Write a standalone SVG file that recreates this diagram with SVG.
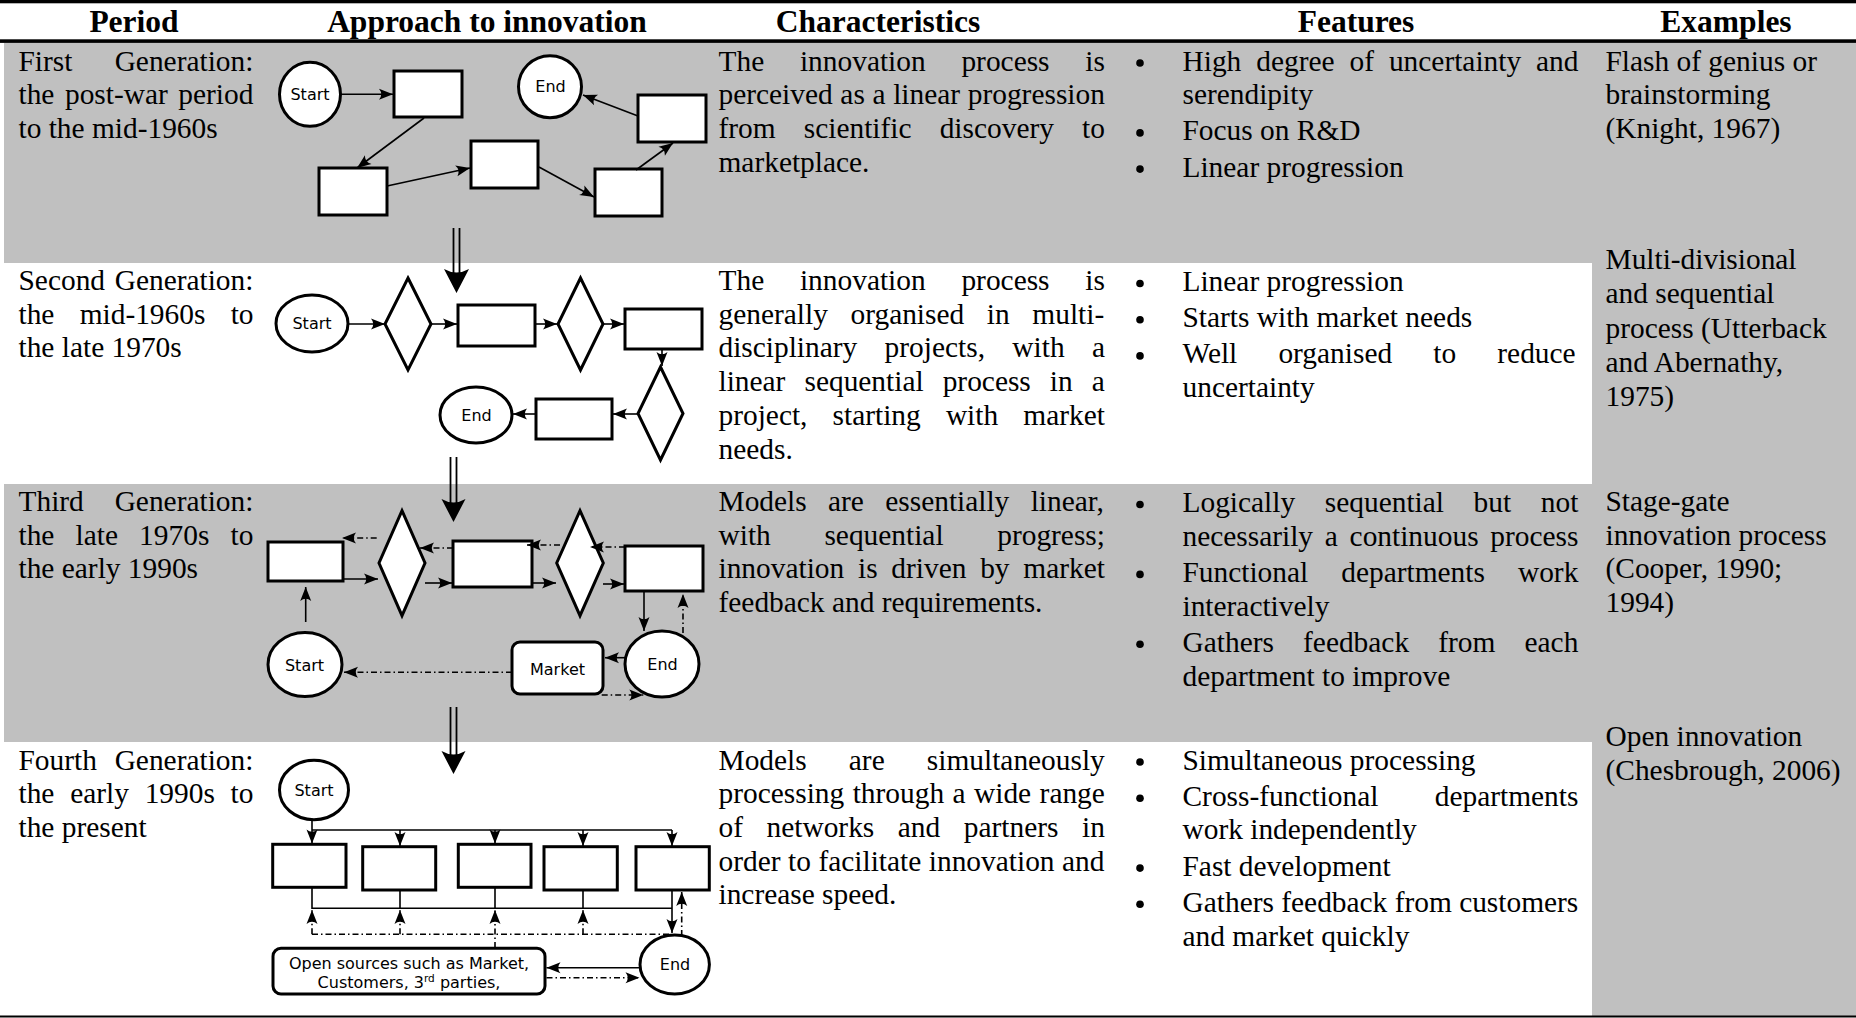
<svg xmlns="http://www.w3.org/2000/svg" width="1856" height="1018" viewBox="0 0 1856 1018">
  <style>
    .hdr { font-family: "Liberation Serif", "Times New Roman", serif; font-weight: bold; font-size: 31.5px; text-anchor: middle; fill: #000; }
    .tx { font-family: "Liberation Serif", "Times New Roman", serif; font-size: 29.4px; fill: #000; }
    .bul { fill: #000; }
    .lbl { font-family: "DejaVu Sans", "Liberation Sans", sans-serif; font-size: 16px; text-anchor: middle; fill: #000; }
    .shape { fill: #fff; stroke: #000; stroke-width: 3; }
    .conn { fill: none; stroke: #000; stroke-width: 1.6; marker-end: url(#ah); }
    .dd { stroke-dasharray: 6 3 1.5 3; }
    .shaft { stroke: #000; stroke-width: 1.8; }
  </style>
  <defs>
    <marker id="ah" markerUnits="userSpaceOnUse" viewBox="-15 -7 16 14" markerWidth="16" markerHeight="14" refX="0" refY="0" orient="auto">
      <path d="M0,0 L-14,-5.5 Q-9.5,0 -14,5.5 Z" fill="#000"/>
    </marker>
  </defs>

  <!-- table background and rules -->
  <g id="table">
    <rect x="0" y="0" width="1856" height="1018" fill="#fff"/>
    <rect x="4" y="43" width="1852" height="973" fill="#c0c0c0"/>
    <rect x="4" y="263" width="1588" height="221" fill="#fff"/>
    <rect x="4" y="742" width="1588" height="274" fill="#fff"/>
    <rect x="0" y="0" width="1856" height="3.3" fill="#000"/>
    <rect x="0" y="39.3" width="1856" height="3.6" fill="#000"/>
    <rect x="0" y="1015.5" width="1856" height="2" fill="#000"/>
  </g>

  <!-- column headings -->
  <g id="headings">
    <text class="hdr" x="134" y="31.5">Period</text>
    <text class="hdr" x="487" y="31.5">Approach to innovation</text>
    <text class="hdr" x="878" y="31.5">Characteristics</text>
    <text class="hdr" x="1356" y="31.5">Features</text>
    <text class="hdr" x="1726" y="31.5">Examples</text>
  </g>

  <!-- Period column -->
  <g id="period">
    <text class="tx" x="18.5" y="70.5" word-spacing="34.9">First Generation:</text>
    <text class="tx" x="18.5" y="104.2" word-spacing="3.2">the post-war period</text>
    <text class="tx" x="18.5" y="137.9">to the mid-1960s</text>
    <text class="tx" x="18.5" y="290" word-spacing="2.3">Second Generation:</text>
    <text class="tx" x="18.5" y="323.7" word-spacing="17.9">the mid-1960s to</text>
    <text class="tx" x="18.5" y="357.4">the late 1970s</text>
    <text class="tx" x="18.5" y="511" word-spacing="23.5">Third Generation:</text>
    <text class="tx" x="18.5" y="544.7" word-spacing="13.8">the late 1970s to</text>
    <text class="tx" x="18.5" y="578.4">the early 1990s</text>
    <text class="tx" x="18.5" y="769.5" word-spacing="10.4">Fourth Generation:</text>
    <text class="tx" x="18.5" y="803.2" word-spacing="8.4">the early 1990s to</text>
    <text class="tx" x="18.5" y="836.9">the present</text>
  </g>

  <!-- Characteristics column -->
  <g id="characteristics">
    <text class="tx" x="718.5" y="70.5" word-spacing="28.4">The innovation process is</text>
    <text class="tx" x="718.5" y="104.2" word-spacing="0.3">perceived as a linear progression</text>
    <text class="tx" x="718.5" y="137.9" word-spacing="20.8">from scientific discovery to</text>
    <text class="tx" x="718.5" y="171.6">marketplace.</text>

    <text class="tx" x="718.5" y="290" word-spacing="28.4">The innovation process is</text>
    <text class="tx" x="718.5" y="323.7" word-spacing="15.3">generally organised in multi-</text>
    <text class="tx" x="718.5" y="357.4" word-spacing="20">disciplinary projects, with a</text>
    <text class="tx" x="718.5" y="391.1" word-spacing="11.7">linear sequential process in a</text>
    <text class="tx" x="718.5" y="424.8" word-spacing="17.8">project, starting with market</text>
    <text class="tx" x="718.5" y="458.5">needs.</text>

    <text class="tx" x="718.5" y="511" word-spacing="14">Models are essentially linear,</text>
    <text class="tx" x="718.5" y="544.7" word-spacing="46.3">with sequential progress;</text>
    <text class="tx" x="718.5" y="578.4" word-spacing="6.4">innovation is driven by market</text>
    <text class="tx" x="718.5" y="612.1">feedback and requirements.</text>

    <text class="tx" x="718.5" y="769.5" word-spacing="34.8">Models are simultaneously</text>
    <text class="tx" x="718.5" y="803.2" word-spacing="1.1">processing through a wide range</text>
    <text class="tx" x="718.5" y="836.9" word-spacing="16.2">of networks and partners in</text>
    <text class="tx" x="718.5" y="870.6" word-spacing="0.2">order to facilitate innovation and</text>
    <text class="tx" x="718.5" y="904.3">increase speed.</text>
  </g>

  <!-- Features column (bulleted list) -->
  <g id="features">
    <circle class="bul" cx="1140" cy="63" r="3.8"/>
    <text class="tx" x="1182.5" y="70.5" word-spacing="7.6">High degree of uncertainty and</text>
    <text class="tx" x="1182.5" y="104.2">serendipity</text>
    <circle class="bul" cx="1140" cy="132.9" r="3.8"/>
    <text class="tx" x="1182.5" y="140.4">Focus on R&amp;D</text>
    <circle class="bul" cx="1140" cy="169.1" r="3.8"/>
    <text class="tx" x="1182.5" y="176.6">Linear progression</text>

    <circle class="bul" cx="1140" cy="283.5" r="3.8"/>
    <text class="tx" x="1182.5" y="291">Linear progression</text>
    <circle class="bul" cx="1140" cy="319.7" r="3.8"/>
    <text class="tx" x="1182.5" y="327.2">Starts with market needs</text>
    <circle class="bul" cx="1140" cy="355.9" r="3.8"/>
    <text class="tx" x="1182.5" y="363.4" word-spacing="33.8">Well organised to reduce</text>
    <text class="tx" x="1182.5" y="397.1">uncertainty</text>

    <circle class="bul" cx="1140" cy="504.5" r="3.8"/>
    <text class="tx" x="1182.5" y="512" word-spacing="22.3">Logically sequential but not</text>
    <text class="tx" x="1182.5" y="545.7" word-spacing="4.4">necessarily a continuous process</text>
    <circle class="bul" cx="1140" cy="574.4" r="3.8"/>
    <text class="tx" x="1182.5" y="581.9" word-spacing="25.7">Functional departments work</text>
    <text class="tx" x="1182.5" y="615.6">interactively</text>
    <circle class="bul" cx="1140" cy="644.3" r="3.8"/>
    <text class="tx" x="1182.5" y="651.8" word-spacing="21.8">Gathers feedback from each</text>
    <text class="tx" x="1182.5" y="685.5">department to improve</text>

    <circle class="bul" cx="1140" cy="762" r="3.8"/>
    <text class="tx" x="1182.5" y="769.5">Simultaneous processing</text>
    <circle class="bul" cx="1140" cy="798.2" r="3.8"/>
    <text class="tx" x="1182.5" y="805.7" word-spacing="49">Cross-functional departments</text>
    <text class="tx" x="1182.5" y="839.4">work independently</text>
    <circle class="bul" cx="1140" cy="868.1" r="3.8"/>
    <text class="tx" x="1182.5" y="875.6">Fast development</text>
    <circle class="bul" cx="1140" cy="904.3" r="3.8"/>
    <text class="tx" x="1182.5" y="911.8">Gathers feedback from customers</text>
    <text class="tx" x="1182.5" y="945.5">and market quickly</text>
  </g>

  <!-- Examples column -->
  <g id="examples">
    <text class="tx" x="1605.5" y="70.5">Flash of genius or</text>
    <text class="tx" x="1605.5" y="104.2">brainstorming</text>
    <text class="tx" x="1605.5" y="137.9">(Knight, 1967)</text>

    <text class="tx" x="1605.5" y="269">Multi-divisional</text>
    <text class="tx" x="1605.5" y="303.3">and sequential</text>
    <text class="tx" x="1605.5" y="337.5">process (Utterback</text>
    <text class="tx" x="1605.5" y="371.8">and Abernathy,</text>
    <text class="tx" x="1605.5" y="406">1975)</text>

    <text class="tx" x="1605.5" y="511">Stage-gate</text>
    <text class="tx" x="1605.5" y="544.7">innovation process</text>
    <text class="tx" x="1605.5" y="578.4">(Cooper, 1990;</text>
    <text class="tx" x="1605.5" y="612.1">1994)</text>

    <text class="tx" x="1605.5" y="746">Open innovation</text>
    <text class="tx" x="1605.5" y="780">(Chesbrough, 2006)</text>
  </g>

  <!-- First generation flow -->
  <g id="g1-start"><ellipse class="shape" cx="310" cy="94.3" rx="30.5" ry="32"/><text class="lbl" x="310" y="100">Start</text></g>
  <g id="g1-box1"><rect class="shape" x="394" y="71" width="68" height="46"/></g>
  <g id="g1-box2"><rect class="shape" x="319" y="168" width="68" height="47"/></g>
  <g id="g1-box3"><rect class="shape" x="471" y="141" width="67" height="47"/></g>
  <g id="g1-box4"><rect class="shape" x="595" y="169" width="67" height="47"/></g>
  <g id="g1-box5"><rect class="shape" x="638" y="95" width="68" height="47"/></g>
  <g id="g1-end"><ellipse class="shape" cx="550" cy="86.7" rx="31.5" ry="31"/><text class="lbl" x="550.5" y="92">End</text></g>

  <!-- Second generation flow -->
  <g id="g2-start"><ellipse class="shape" cx="312" cy="323.5" rx="36" ry="28.5"/><text class="lbl" x="312" y="329.3">Start</text></g>
  <g id="g2-gate1"><polygon class="shape" points="408,278 431,324 408,370 385,324"/></g>
  <g id="g2-box1"><rect class="shape" x="458" y="305" width="77" height="41"/></g>
  <g id="g2-gate2"><polygon class="shape" points="580.5,278 603,324 580.5,370 558,324"/></g>
  <g id="g2-box2"><rect class="shape" x="625" y="309" width="77" height="40"/></g>
  <g id="g2-gate3"><polygon class="shape" points="660.5,367 683,413.5 660.5,460 638,413.5"/></g>
  <g id="g2-box3"><rect class="shape" x="536" y="399" width="76" height="40"/></g>
  <g id="g2-end"><ellipse class="shape" cx="476" cy="415" rx="36" ry="28"/><text class="lbl" x="476.5" y="420.8">End</text></g>

  <!-- Third generation flow -->
  <g id="g3-box1"><rect class="shape" x="268" y="542" width="75" height="39"/></g>
  <g id="g3-start"><ellipse class="shape" cx="305" cy="664.5" rx="37" ry="32"/><text class="lbl" x="304.5" y="670.8">Start</text></g>
  <g id="g3-gate1"><polygon class="shape" points="402,510.7 425,563 402,615.7 379,563"/></g>
  <g id="g3-box2"><rect class="shape" x="453" y="541" width="79" height="46"/></g>
  <g id="g3-gate2"><polygon class="shape" points="580,510.7 603.3,563 580,615.7 556.7,563"/></g>
  <g id="g3-box3"><rect class="shape" x="625" y="546" width="78" height="45"/></g>
  <g id="g3-end"><ellipse class="shape" cx="662" cy="664" rx="37" ry="33"/><text class="lbl" x="662.5" y="669.8">End</text></g>
  <g id="g3-market"><rect class="shape" x="512" y="642" width="91" height="52" rx="8"/><text class="lbl" x="557.5" y="675">Market</text></g>

  <!-- Fourth generation flow -->
  <g id="g4-start"><ellipse class="shape" cx="314" cy="790" rx="34.5" ry="29.7"/><text class="lbl" x="314" y="795.8">Start</text></g>
  <g id="g4-unit1"><rect class="shape" x="272.7" y="844.3" width="73.3" height="43"/></g>
  <g id="g4-unit2"><rect class="shape" x="362.7" y="846.7" width="73" height="43.3"/></g>
  <g id="g4-unit3"><rect class="shape" x="458.3" y="844.3" width="72.7" height="43"/></g>
  <g id="g4-unit4"><rect class="shape" x="544" y="846.7" width="73.3" height="43.3"/></g>
  <g id="g4-unit5"><rect class="shape" x="636" y="846.7" width="73.3" height="43.3"/></g>
  <g id="g4-end"><ellipse class="shape" cx="674.7" cy="964.5" rx="34.7" ry="29.5"/><text class="lbl" x="675" y="970.2">End</text></g>
  <g id="g4-open">
    <rect class="shape" x="273" y="948.3" width="272" height="45.7" rx="8"/>
    <text class="lbl" x="409" y="968.5">Open sources such as Market,</text>
    <text class="lbl" x="409" y="988.3">Customers, 3<tspan font-size="10.5px" dy="-6">rd</tspan><tspan dy="6"> parties,</tspan></text>
  </g>

  <!-- generation-to-generation transitions -->
  <g id="transitions">
    <line class="shaft" x1="453.5" y1="228" x2="453.5" y2="275"/>
    <line class="shaft" x1="459.5" y1="228" x2="459.5" y2="275"/>
    <path d="M456.5,293 L444,269 Q456.5,276 469,269 Z" fill="#000"/>
    <line class="shaft" x1="450.5" y1="457" x2="450.5" y2="505"/>
    <line class="shaft" x1="456.5" y1="457" x2="456.5" y2="505"/>
    <path d="M453.5,522 L441.5,499 Q453.5,506 465.5,499 Z" fill="#000"/>
    <line class="shaft" x1="450.5" y1="707" x2="450.5" y2="755"/>
    <line class="shaft" x1="456.5" y1="707" x2="456.5" y2="755"/>
    <path d="M453.5,774 L441.5,751 Q453.5,758 465.5,751 Z" fill="#000"/>
  </g>

  <!-- connectors -->
  <g id="connectors">
    <!-- first generation -->
    <path class="conn" d="M341,94.3 L393,94.3"/>
    <path class="conn" d="M424,118 L357,168"/>
    <path class="conn" d="M387,186 L470,168"/>
    <path class="conn" d="M539,167 L594,197"/>
    <path class="conn" d="M636,170 L673,143"/>
    <path class="conn" d="M638,116 L583,95"/>

    <!-- second generation -->
    <path class="conn" d="M348,324 H385"/>
    <path class="conn" d="M431,324 H457"/>
    <path class="conn" d="M535,324 H557"/>
    <path class="conn" d="M603,324 H624"/>
    <path class="conn" d="M662,349 V366"/>
    <path class="conn" d="M638,414 H613"/>
    <path class="conn" d="M536,414 H513"/>

    <!-- third generation -->
    <path class="conn" d="M305.7,622 V587"/>
    <path class="conn" d="M343,579 H378"/>
    <path class="conn" d="M425,583 H452"/>
    <path class="conn" d="M532,583 H556"/>
    <path class="conn" d="M603,584 H624"/>
    <path class="conn" d="M644,591 V631"/>
    <path class="conn" d="M626.7,657.7 H605"/>
    <path class="conn dd" d="M376.7,538 H342"/>
    <path class="conn dd" d="M453,548 H420"/>
    <path class="conn dd" d="M560,545 H527"/>
    <path class="conn dd" d="M625,547 H590"/>
    <path class="conn dd" d="M683,633 V594"/>
    <path class="conn dd" d="M512,672.3 H344"/>
    <path class="conn dd" d="M601.7,695 H643.3"/>

    <!-- fourth generation: distribution bus -->
    <path d="M312,830 H672" fill="none" stroke="#000" stroke-width="1.6"/>
    <path class="conn" d="M312,819.5 V843.5"/>
    <path class="conn" d="M400,830 V846"/>
    <path class="conn" d="M495,830 V843.5"/>
    <path class="conn" d="M583,830 V846"/>
    <path class="conn" d="M672,830 V846"/>
    <!-- collection bus -->
    <path d="M312,887.3 V908.3 H672 M400,890 V908.3 M495,887.3 V908.3 M583,890 V908.3" fill="none" stroke="#000" stroke-width="1.6"/>
    <path class="conn" d="M672,890 V933"/>
    <!-- feedback bus -->
    <path class="dd" d="M312,934.3 H670" fill="none" stroke="#000" stroke-width="1.6"/>
    <path class="conn dd" d="M312,934.3 V910"/>
    <path class="conn dd" d="M400,934.3 V910"/>
    <path class="conn dd" d="M495,948 V910"/>
    <path class="conn dd" d="M583,934.3 V910"/>
    <path class="conn dd" d="M681.7,936 V892"/>
    <path class="conn" d="M640,967.7 H546.5"/>
    <path class="conn dd" d="M546.5,977.7 H639.5"/>
  </g>
</svg>
